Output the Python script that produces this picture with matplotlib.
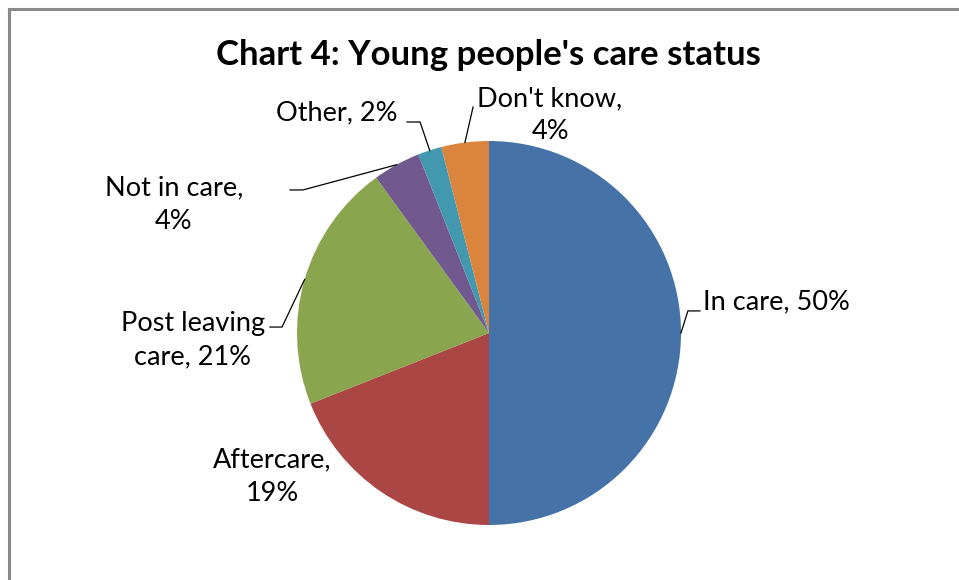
import matplotlib
matplotlib.use("Agg")
import matplotlib.pyplot as plt
from matplotlib.lines import Line2D
import numpy as np

categories = ["In care", "Aftercare", "Post leaving care", "Not in care", "Other", "Don't know"]
shares = [50, 19, 21, 4, 2, 4]
colors = ["#4572A7", "#AA4643", "#89A54E", "#71588F", "#4198AF", "#DB843D"]

# label text as wrapped on the chart
label_text = ["In care, 50%", "Aftercare,\n19%", "Post leaving\ncare, 21%",
              "Not in care,\n4%", "Other, 2%", "Don't know,\n4%"]

# label placement (pie radius = 1): text xy, alignment, leader elbow + end (None = no leader)
label_pos = [(1.115, 0.165), (-1.13, -0.747), (-1.542, -0.036),
             (-1.641, 0.669), (-0.474, 1.146), (0.318, 1.135)]
label_ha = ["left", "center", "center", "center", "right", "center"]
leaders = [[(1.036, 0.115), (1.099, 0.115)],
           None,
           [(-1.078, 0.031), (-1.141, 0.031)],
           [(-0.969, 0.745), (-1.036, 0.745)],
           [(-0.359, 1.099), (-0.427, 1.099)],
           [(-0.083, 1.177)]]

plt.rcParams['font.family'] = ['Lato', 'DejaVu Sans']

W, H = 959, 580
fig = plt.figure(figsize=(W / 100, H / 100), dpi=100)

# chart area border (runs off the right and bottom edges)
fig.add_artist(Line2D([8.5 / W, 8.5 / W], [0, 1 - 9 / H], color="#8a8a8a", lw=2.2))
fig.add_artist(Line2D([8.5 / W, 1], [1 - 9 / H, 1 - 9 / H], color="#8a8a8a", lw=2.2))

fig.text(488 / W, 1 - 55 / H, "Chart 4: Young people's care status",
         ha="center", va="center", fontsize=25, fontweight="bold")

cx, cy, r = 489, 333, 192
ax = fig.add_axes([(cx - r) / W, (H - cy - r) / H, 2 * r / W, 2 * r / H])
wedges, _ = ax.pie(shares, colors=colors, startangle=90, counterclock=False,
                   radius=1, wedgeprops=dict(linewidth=0))
ax.set_xlim(-1, 1)
ax.set_ylim(-1, 1)
ax.set_aspect("equal")
ax.axis("off")

for w, txt, pos, ha, lead in zip(wedges, label_text, label_pos, label_ha, leaders):
    if lead is not None:
        mid = np.deg2rad((w.theta1 + w.theta2) / 2)
        pts = [(np.cos(mid), np.sin(mid))] + lead
        xs, ys = zip(*pts)
        ax.plot(xs, ys, color="black", lw=0.9, clip_on=False)
    ax.text(pos[0], pos[1], txt, ha=ha, va="center", fontsize=19.5,
            linespacing=1.42, clip_on=False)

fig.savefig("out.png", dpi=100)
